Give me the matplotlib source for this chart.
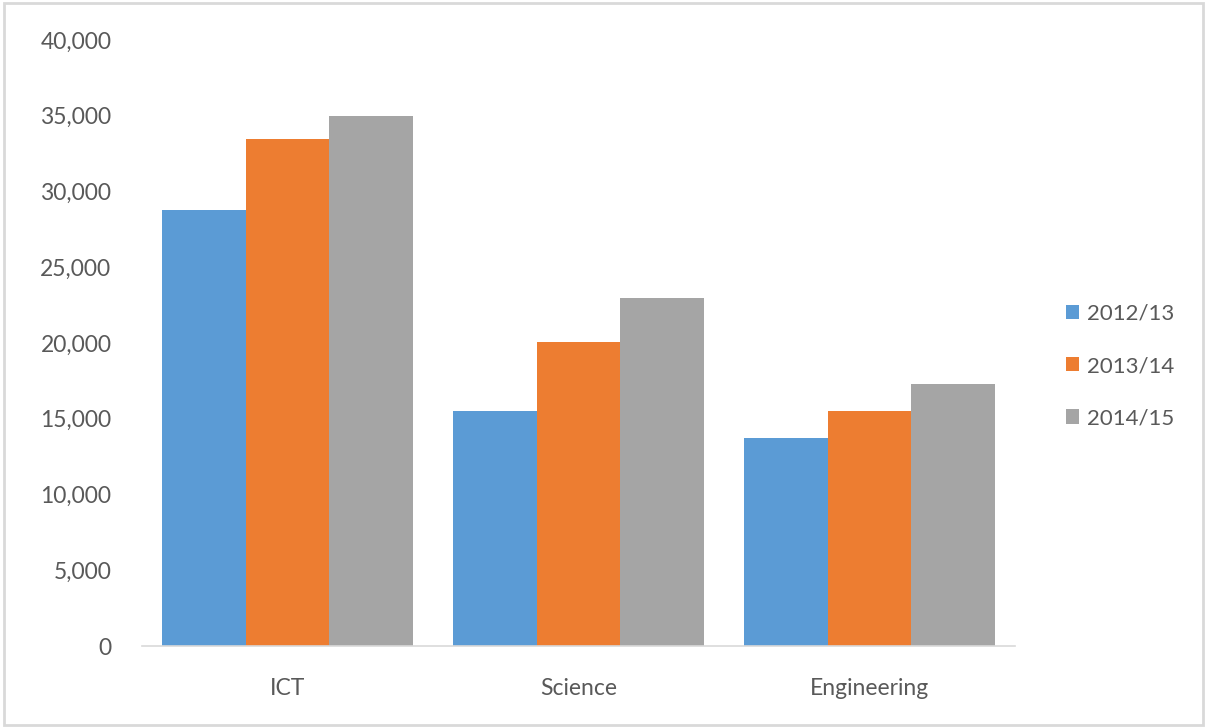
import numpy as np
import matplotlib.pyplot as plt
from matplotlib.patches import Rectangle
from matplotlib.ticker import FuncFormatter

# Enrolments by subject area and academic year
subjects = ['ICT', 'Science', 'Engineering']
years = ['2012/13', '2013/14', '2014/15']
y2012 = [28800, 15500, 13700]
y2013 = [33500, 20100, 15500]
y2014 = [35000, 23000, 17300]

colors = ['#5b9bd5', '#ed7d31', '#a5a5a5']
text_color = '#595959'

plt.rcParams['font.family'] = ['Lato', 'DejaVu Sans']

fig = plt.figure(figsize=(12.07, 7.28), dpi=100)
ax = fig.add_axes([0.1176, 0.1126, 0.7233, 0.8324])

x = np.arange(len(subjects))
width = 0.287
for i, (vals, label) in enumerate(zip([y2012, y2013, y2014], years)):
    ax.bar(x + (i - 1) * width, vals, width, color=colors[i], label=label)

ax.set_xlim(-0.5, 2.5)
ax.set_ylim(0, 40000)
ax.set_yticks(np.arange(0, 40001, 5000))
ax.yaxis.set_major_formatter(FuncFormatter(lambda v, p: f'{int(v):,}'))
ax.set_xticks(x)
ax.set_xticklabels(subjects)

for side in ['top', 'right', 'left']:
    ax.spines[side].set_visible(False)
ax.spines['bottom'].set_color('#d9d9d9')
ax.spines['bottom'].set_linewidth(1.2)
ax.tick_params(axis='both', length=0, labelsize=16.5, colors=text_color)
ax.tick_params(axis='y', pad=22)
ax.tick_params(axis='x', pad=23)

leg = ax.legend(loc='center left', bbox_to_anchor=(1.035, 0.462), frameon=False,
                fontsize=16, handlelength=0.6, handleheight=0.6,
                handletextpad=0.35, labelspacing=1.45)
for t in leg.get_texts():
    t.set_color(text_color)

# outer chart border
fig.patches.append(Rectangle((0.003, 0.004), 0.994, 0.992, transform=fig.transFigure,
                             fill=False, edgecolor='#d9d9d9', linewidth=2))

fig.savefig('out.png', dpi=100)
